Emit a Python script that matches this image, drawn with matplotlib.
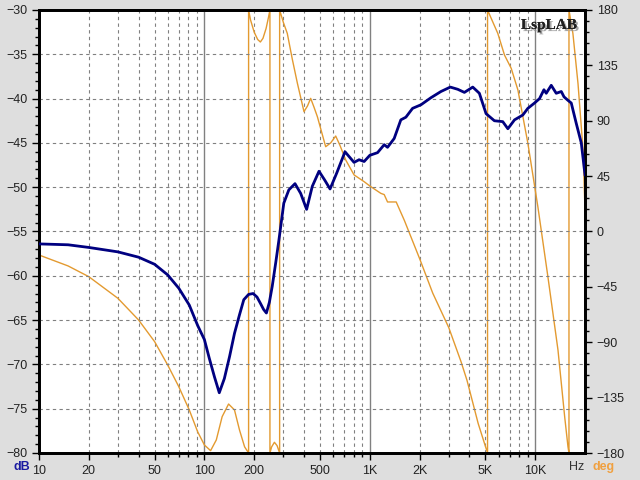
import numpy as np
import matplotlib
matplotlib.use("Agg")
import matplotlib.pyplot as plt
import matplotlib.patheffects as pe
from matplotlib.ticker import FixedLocator, NullFormatter

plt.rcParams['font.family'] = ['Liberation Sans', 'DejaVu Sans']

# magnitude response (Hz, dB)
mag_freq = [10, 15, 20, 30, 40, 50, 60, 70, 81, 91, 100, 107, 115, 123, 132, 142,
            152, 163, 173, 185, 197, 208, 218, 228, 237, 247, 257, 270, 282, 302,
            324, 353, 382, 415, 449, 493, 534, 575, 631, 708, 803, 861, 924, 1000,
            1114, 1222, 1280, 1404, 1540, 1652, 1814, 2037, 2342, 2692, 3067, 3401,
            3732, 4192, 4596, 5045, 5665, 6365, 6834, 7496, 8418, 9026, 9902, 10620,
            11290, 11660, 12500, 13400, 14380, 14930, 15780, 16520, 17710, 18990,
            20000]
mag_db = [-56.4, -56.5, -56.8, -57.3, -57.9, -58.7, -59.9, -61.4, -63.3, -65.6,
          -67.2, -69.3, -71.4, -73.2, -71.6, -69.1, -66.5, -64.4, -62.7, -62.1,
          -62.0, -62.4, -63.1, -63.8, -64.2, -63.0, -61.2, -58.5, -56.0, -51.8,
          -50.3, -49.6, -50.7, -52.5, -49.9, -48.2, -49.2, -50.2, -48.4, -46.0,
          -47.2, -46.9, -47.1, -46.4, -46.1, -45.2, -45.5, -44.5, -42.4, -42.1,
          -41.1, -40.7, -39.9, -39.2, -38.7, -38.95, -39.3, -38.7, -39.4, -41.7,
          -42.5, -42.6, -43.4, -42.4, -41.85, -41.1, -40.5, -40.0, -39.0, -39.4,
          -38.5, -39.4, -39.2, -39.8, -40.2, -40.5, -42.8, -45.0, -48.6]

# phase response (Hz, deg), wrapped as shown
ph_freq = [10, 15, 20, 30, 40, 50, 60, 70, 81, 91, 100, 109, 118, 128, 140, 152,
           163, 175, 185, 185, 190, 200, 210, 218, 226, 236, 244, 249, 249, 255,
           265, 275, 285, 285, 300, 317, 340, 365, 400, 420, 439, 460, 482, 541,
           580, 622, 660, 716, 803, 924, 1000, 1166, 1222, 1280, 1444, 1618, 2000,
           2400, 3000, 3565, 3870, 4520, 5150, 5150, 5940, 6520, 7160, 7860, 9030,
           10380, 11930, 13730, 15070, 15780, 16000, 16000, 16900, 18150, 19470,
           20000]
ph_deg = [-19.1, -28, -36.7, -54.3, -71.9, -89.5, -108.5, -126.1, -145, -162.7,
          -173.5, -178.1, -169.4, -150.5, -140.2, -145, -161.3, -175, -180, 180,
          172, 162, 156, 154, 157, 165, 174, 180, -180, -175, -171.3, -174, -180,
          180, 170, 161, 140, 120.4, 97.4, 102, 108.2, 101, 93.3, 68.9, 72, 77.6,
          70, 58, 46, 40.5, 37, 31, 30, 24, 24, 9, -22, -50, -78, -106, -121, -156,
          -180, 180, 161, 143.4, 132.6, 115, 71.7, 20, -36.7, -96.3, -150.5,
          -174.9, -180, 180, 161, 120, 66, 17.5]

x_labels = [10, 20, 50, 100, 200, 500, 1000, 2000, 5000, 10000]
x_label_txt = ['10', '20', '50', '100', '200', '500', '1K', '2K', '5K', '10K']

bg = '#dedede'
navy = '#000080'
orange = '#e39a30'
gridc = '#808080'

fig = plt.figure(figsize=(6.4, 4.8), dpi=100, facecolor=bg)
ax2 = fig.add_axes([39 / 640, 27 / 480, 546 / 640, 443 / 480])
ax = ax2.twinx()  # dB axis on top, moved to the left
ax.yaxis.tick_left()
ax2.yaxis.tick_right()

ax2.set_xscale('log')
ax2.set_xlim(10, 20000)
ax.set_ylim(-80, -30)
ax2.set_ylim(-180, 180)

# grid (on the phase axes, beneath both curves)
for d in [10, 100, 1000, 10000]:
    for k in range(1, 10):
        f = d * k
        if f <= 10 or f >= 20000:
            continue
        if k == 1:
            ax2.axvline(f, color=gridc, lw=1.0, zorder=1)
        else:
            ax2.axvline(f, color=gridc, lw=0.8, ls=(0, (3, 3)), zorder=1)
for y in range(-75, -30, 5):
    ax.axhline(y, color=gridc, lw=0.8, ls=(0, (3, 3)), zorder=1)

ax2.plot(ph_freq, ph_deg, color=orange, lw=1.0, zorder=2)
ax.plot(mag_freq, mag_db, color=navy, lw=2.0, zorder=3)

ax2.xaxis.set_major_locator(FixedLocator(x_labels))
ax2.set_xticklabels(x_label_txt)
ax2.xaxis.set_minor_locator(FixedLocator([f for d in [10, 100, 1000, 10000]
                                          for f in [d * k for k in range(1, 10)]
                                          if f not in x_labels and f < 20000]))
ax2.xaxis.set_minor_formatter(NullFormatter())
ax.set_yticks(range(-80, -29, 5))
ax.yaxis.set_minor_locator(FixedLocator(range(-80, -29, 1)))
ax2.set_yticks(range(-180, 181, 45))
ax2.yaxis.set_minor_locator(FixedLocator(range(-180, 181, 9)))

for a in (ax, ax2):
    a.tick_params(which='major', length=5, width=1, labelsize=9,
                  colors='black', labelcolor='#222222')
    a.tick_params(which='minor', length=3, width=1)
    for s in a.spines.values():
        s.set_linewidth(2)

fig.text(22 / 640, 1 - 467 / 480, 'dB', color='#1a1aa0', fontsize=9,
         fontweight='bold', ha='center', va='center')
fig.text(577 / 640, 1 - 467 / 480, 'Hz', color='#333333', fontsize=9,
         ha='center', va='center')
fig.text(604 / 640, 1 - 467 / 480, 'deg', color='#f0a040', fontsize=9,
         fontweight='bold', ha='center', va='center')

ax.text(0.985, 0.965, 'LspLAB', transform=ax.transAxes, ha='right', va='center',
        fontsize=11, fontweight='bold', family='Liberation Serif', color='#202020',
        path_effects=[pe.withSimplePatchShadow(offset=(1.5, -1.5),
                                               shadow_rgbFace='#909090', alpha=0.8),
                      pe.Normal()], zorder=5)

fig.savefig('out.png', dpi=100, facecolor=bg)
